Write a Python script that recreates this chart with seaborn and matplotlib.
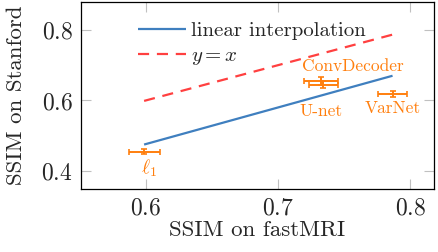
import matplotlib
matplotlib.use("Agg")
import matplotlib.pyplot as plt
import seaborn as sns
import pandas as pd

# methods with mean SSIM and error half-widths
methods = ["$\\ell_1$", "ConvDecoder", "U-net", "VarNet"]
ssim_fastmri = [0.5987, 0.7323, 0.7343, 0.7866]
ssim_stanford = [0.455, 0.655, 0.6445, 0.619]
err_fastmri = [0.0117, 0.013, 0.011, 0.011]
err_stanford = [0.008, 0.012, 0.010, 0.008]

# reference lines
line_x = [0.5987, 0.7866]
interp_y = [0.475, 0.670]
identity_y = [0.5987, 0.7866]

sns.set_style("ticks")
plt.rcParams["font.family"] = ["cmr10", "DejaVu Serif"]
plt.rcParams["mathtext.fontset"] = "cm"
plt.rcParams["axes.formatter.use_mathtext"] = True

blue = "#3f7fbf"
red = "#ff4040"
orange = "#ff7f0e"

fig = plt.figure(figsize=(4.38, 2.52), dpi=100)
ax = fig.add_axes([0.185, 0.25, 0.806, 0.742])

lines = pd.DataFrame({
    "x": line_x + line_x,
    "y": interp_y + identity_y,
    "kind": ["linear interpolation"] * 2 + ["$y = x$"] * 2,
})
sns.lineplot(data=lines, x="x", y="y", hue="kind", style="kind",
             palette=[blue, red], dashes=[(1, 0), (5, 3.5)], linewidth=1.6, ax=ax)

ax.errorbar(ssim_fastmri, ssim_stanford, xerr=err_fastmri, yerr=err_stanford,
            fmt="none", ecolor=orange, elinewidth=1.4, capsize=2.2, capthick=1.2)

offsets = [(3.4, -12), (23, 10.8), (-1.4, -19.2), (0, -10.8)]
for name, x, y, off in zip(methods, ssim_fastmri, ssim_stanford, offsets):
    ax.annotate(name, (x, y), xytext=off, textcoords="offset points",
                ha="center", va="center", color=orange,
                fontsize=14 if name.startswith("$") else 12.5)

ax.set_xlim(0.551, 0.818)
ax.set_ylim(0.349, 0.879)
ax.set_xticks([0.6, 0.7, 0.8])
ax.set_yticks([0.4, 0.6, 0.8])
ax.set_xlabel("SSIM on fastMRI", fontsize=16.5, labelpad=1)
ax.set_ylabel("SSIM on Stanford", fontsize=16.5, labelpad=11)
ax.tick_params(direction="in", length=7, width=0.8, color="#c0c0c0",
               labelsize=17, top=True, right=True, pad=6)
for s in ax.spines.values():
    s.set_linewidth(0.9)
    s.set_color("black")

leg = ax.legend(loc="upper left", bbox_to_anchor=(0.137, 0.94), frameon=False,
                fontsize=15, handlelength=2.3, handletextpad=0.25,
                labelspacing=0.3, borderaxespad=0)

fig.savefig("out.png", dpi=100)
